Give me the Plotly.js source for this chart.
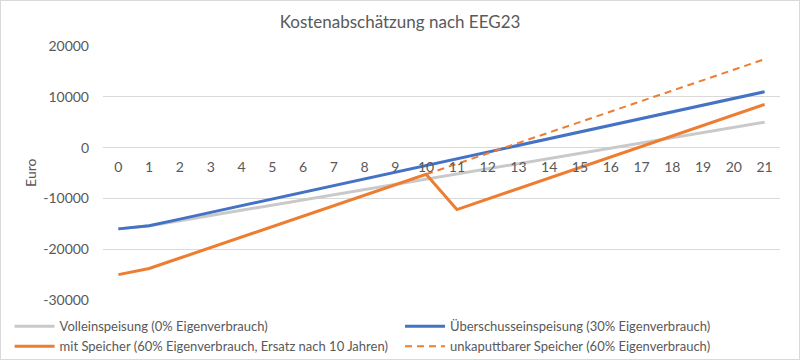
<!DOCTYPE html>
<html>
<head>
<meta charset="utf-8">
<script src="https://cdn.plot.ly/plotly-3.0.1.min.js"></script>
<style>
  body { margin: 0; padding: 0; background: #fff; }
  #wrap { position: relative; width: 800px; height: 360px; }
  #chart { width: 800px; height: 360px; }
  #frame { position: absolute; left: 0; top: 0; width: 798px; height: 358px; border: 1px solid #d9d9d9; pointer-events: none; }
</style>
</head>
<body>
<div id="wrap"><div id="chart"></div><div id="frame"></div></div>
<script>
const years = ['0','1','2','3','4','5','6','7','8','9','10','11','12','13','14','15','16','17','18','19','20','21'];

const volleinspeisung = [-16000,-15400,-14380,-13360,-12340,-11320,-10300,-9280,-8260,-7240,-6220,-5200,-4180,-3160,-2140,-1120,-100,920,1940,2960,3980,5000];
const ueberschuss = [-16000,-15400,-14080,-12760,-11440,-10120,-8800,-7480,-6160,-4840,-3520,-2200,-880,440,1760,3080,4400,5720,7040,8360,9680,11000];
const mitSpeicher = [-25000,-23800,-21740,-19680,-17620,-15560,-13500,-11440,-9380,-7320,-5260,-12200,-10130,-8060,-5990,-3920,-1850,220,2290,4360,6430,8500];
const unkaputtYears = ['10','11','12','13','14','15','16','17','18','19','20','21'];
const unkaputtbar = [-5260,-3200,-1140,920,2980,5040,7100,9160,11220,13280,15340,17400];

const yTickVals = [-30000,-20000,-10000,0,10000,20000];
const yTickText = ['-30000','-20000','-10000','0','10000','20000'];

const names = [
  'Volleinspeisung (0% Eigenverbrauch)',
  'Überschusseinspeisung (30% Eigenverbrauch)',
  'mit Speicher (60% Eigenverbrauch, Ersatz nach 10 Jahren)',
  'unkaputtbarer Speicher (60% Eigenverbrauch)'
];
const yTitle = 'Euro';

const txt = '#595959';
const fam = 'Lato, "Open Sans", sans-serif';

const traces = [
  {x: years, y: volleinspeisung, name: names[0], legend: 'legend', type: 'scatter', mode: 'lines', line: {color: '#c9c9c9', width: 3}},
  {x: years, y: ueberschuss, name: names[1], legend: 'legend2', type: 'scatter', mode: 'lines', line: {color: '#4472c4', width: 3}},
  {x: years, y: mitSpeicher, name: names[2], legend: 'legend', type: 'scatter', mode: 'lines', line: {color: '#ed7d31', width: 3}},
  {x: unkaputtYears, y: unkaputtbar, name: names[3], legend: 'legend2', type: 'scatter', mode: 'lines', line: {color: '#ed7d31', width: 2, dash: '7px,5px'}}
];

const legendBase = {
  orientation: 'v', xref: 'container', yref: 'container',
  xanchor: 'left', y: 0.135, yanchor: 'top',
  font: {size: 13, color: txt, family: fam},
  tracegroupgap: 0, itemwidth: 40, bgcolor: 'rgba(0,0,0,0)'
};

const layout = {
  width: 800, height: 360,
  margin: {l: 103, r: 20, t: 46, b: 60, autoexpand: false},
  paper_bgcolor: '#fff', plot_bgcolor: '#fff',
  font: {family: fam, color: txt},
  title: {text: 'Kostenabschätzung nach EEG23', x: 0.5, xanchor: 'center', y: 0.94, yanchor: 'middle', yref: 'container', font: {size: 17, color: txt, family: fam}},
  xaxis: {
    type: 'category', range: [-0.5, 21.5],
    anchor: 'free', position: 0.6,
    showgrid: false, zeroline: false, showline: false, ticks: '',
    ticklabelstandoff: 9,
    tickfont: {size: 14, color: txt, family: fam}
  },
  yaxis: {
    range: [-30000, 20000], tickvals: yTickVals, ticktext: yTickText,
    showgrid: true, gridcolor: '#d9d9d9', gridwidth: 1,
    zeroline: true, zerolinecolor: '#d9d9d9', zerolinewidth: 1,
    showline: false, ticks: '',
    ticklabelstandoff: 13,
    tickfont: {size: 14, color: txt, family: fam}
  },
  annotations: [{
    text: yTitle, xref: 'paper', yref: 'paper', x: -0.108, y: 0.5,
    xanchor: 'center', yanchor: 'middle', textangle: -90, showarrow: false,
    font: {size: 14, color: txt, family: fam}
  }],
  showlegend: true,
  legend: Object.assign({}, legendBase, {x: 0.012}),
  legend2: Object.assign({}, legendBase, {x: 0.5})
};

Plotly.newPlot('chart', traces, layout, {displayModeBar: false, staticPlot: true});
</script>
</body>
</html>
